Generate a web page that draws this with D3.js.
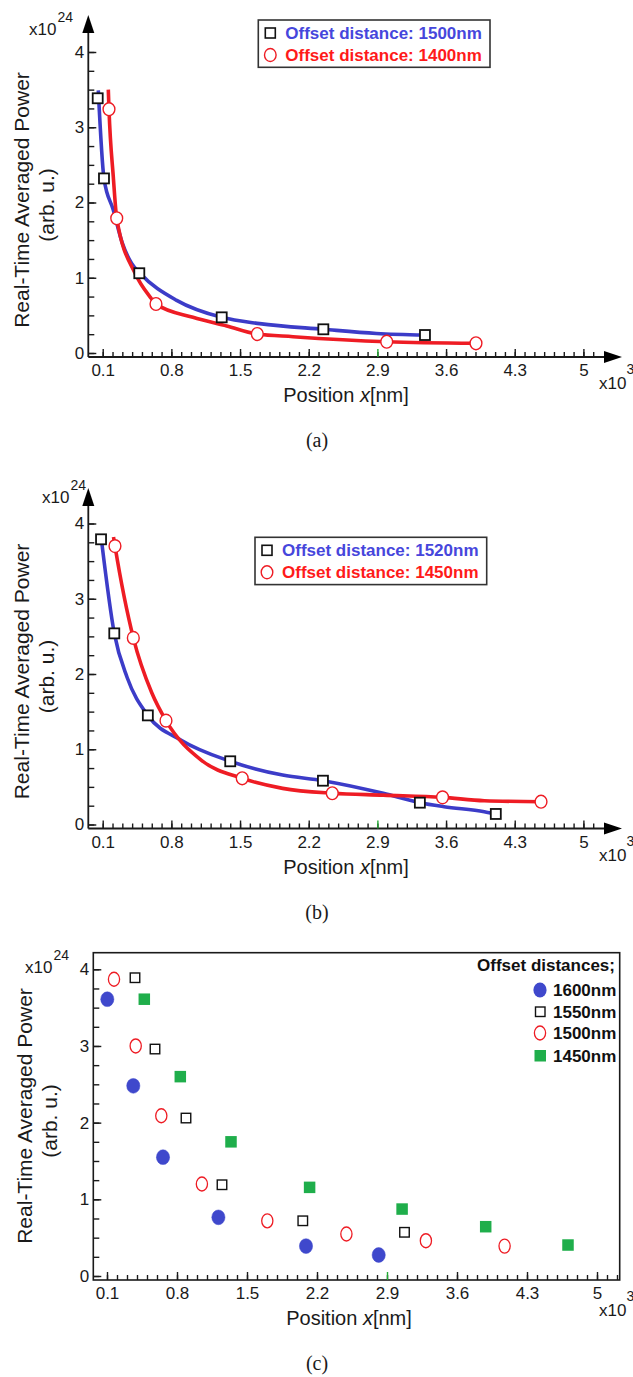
<!DOCTYPE html>
<html><head><meta charset="utf-8">
<script src="https://cdnjs.cloudflare.com/ajax/libs/d3/7.8.5/d3.min.js"></script>
<style>body{margin:0;background:#fff}</style>
</head><body><svg id="c" width="633" height="1377" xmlns="http://www.w3.org/2000/svg"></svg>
<script>
// ---------- data ----------
const xTickValues = [0.1, 0.8, 1.5, 2.2, 2.9, 3.6, 4.3, 5.0];
const xTickLabels = ["0.1", "0.8", "1.5", "2.2", "2.9", "3.6", "4.3", "5"];
const yTickValues = [0, 1, 2, 3, 4];
const yTickLabels = ["0", "1", "2", "3", "4"];

// panel (a)  x in 10^3 nm, y in 10^24
const aSqX = [0.049, 0.113, 0.473, 1.313, 2.349, 3.385];
const aSqY = [3.385, 2.32, 1.06, 0.474, 0.315, 0.239];
const aCiX = [0.164, 0.243, 0.643, 1.676, 2.995, 3.905];
const aCiY = [3.24, 1.79, 0.651, 0.252, 0.15, 0.129];
const aBlueFitX = [0.055, 0.113, 0.208, 0.30, 0.395, 0.48, 0.854, 1.313, 1.70, 2.349, 2.89, 3.385];
const aBlueFitY = [3.49, 2.32, 1.9, 1.46, 1.19, 1.06, 0.70, 0.474, 0.39, 0.315, 0.26, 0.239];
const aRedFitX = [0.157, 0.164, 0.208, 0.243, 0.43, 0.58, 0.643, 1.02, 1.364, 1.676, 2.04, 2.995, 3.905];
const aRedFitY = [3.5, 3.24, 2.34, 1.79, 1.06, 0.75, 0.651, 0.474, 0.359, 0.252, 0.217, 0.15, 0.129];
const aLegend = ["Offset distance: 1500nm", "Offset distance: 1400nm"];

// panel (b)
const bSqX = [0.083, 0.218, 0.56, 1.40, 2.345, 3.333, 4.107];
const bSqY = [3.79, 2.54, 1.45, 0.84, 0.582, 0.29, 0.14];
const bCiX = [0.225, 0.412, 0.745, 1.522, 2.44, 3.564, 4.568];
const bCiY = [3.70, 2.48, 1.38, 0.614, 0.415, 0.361, 0.303];
const bBlueFitX = [0.09, 0.218, 0.35, 0.56, 0.9, 1.40, 1.934, 2.345, 2.96, 3.333, 3.58, 3.99, 4.107];
const bBlueFitY = [3.75, 2.54, 1.95, 1.45, 1.12, 0.84, 0.657, 0.582, 0.414, 0.29, 0.237, 0.17, 0.14];
const bRedFitX = [0.21, 0.225, 0.412, 0.6, 0.745, 1.11, 1.522, 1.934, 2.44, 2.96, 3.564, 3.99, 4.568];
const bRedFitY = [3.82, 3.70, 2.48, 1.75, 1.38, 0.85, 0.614, 0.48, 0.415, 0.39, 0.361, 0.316, 0.303];
const bLegend = ["Offset distance: 1520nm", "Offset distance: 1450nm"];

// panel (c)
const cLegendTitle = "Offset distances;";
const cSeriesNames = ["1600nm", "1550nm", "1500nm", "1450nm"];
const c1600X = [0.103, 0.363, 0.66, 1.214, 2.09, 2.817];
const c1600Y = [3.61, 2.48, 1.55, 0.765, 0.39, 0.274];
const c1550X = [0.38, 0.58, 0.89, 1.25, 2.058, 3.075];
const c1550Y = [3.89, 2.96, 2.06, 1.19, 0.72, 0.57];
const c1500X = [0.17, 0.387, 0.643, 1.049, 1.703, 2.494, 3.289, 4.076];
const c1500Y = [3.87, 3.0, 2.09, 1.2, 0.72, 0.548, 0.46, 0.39];
const c1450X = [0.473, 0.833, 1.34, 2.126, 3.051, 3.887, 4.71];
const c1450Y = [3.61, 2.6, 1.75, 1.156, 0.873, 0.643, 0.404];

// ---------- drawing ----------
const svg = d3.select("#c");
const FONT = "'Liberation Sans', Arial, sans-serif";
const INK = "#1a1a1a";
const BLUE = "#3c3cc8", RED = "#ee1c24", GREEN = "#1fae4b", BLUEDOT = "#3f48cc";

function zip(a, b) { return a.map((v, i) => [v, b[i]]); }

function panel(cfg) {
  const g = svg.append("g");
  const x = d3.scaleLinear().domain([0, 1]).range([cfg.x0, cfg.x0 + cfg.kx]);
  const y = d3.scaleLinear().domain([0, 4]).range([cfg.y0, cfg.y4]);

  if (cfg.box) {
    g.append("rect").attr("x", cfg.axisX).attr("y", cfg.boxTop)
      .attr("width", cfg.boxRight - cfg.axisX).attr("height", cfg.axisY - cfg.boxTop)
      .attr("fill", "none").attr("stroke", INK).attr("stroke-width", 1.6);
  } else {
    g.append("line").attr("x1", cfg.axisX).attr("x2", cfg.xEnd).attr("y1", cfg.axisY).attr("y2", cfg.axisY)
      .attr("stroke", INK).attr("stroke-width", 1.8);
    g.append("line").attr("x1", cfg.axisX).attr("x2", cfg.axisX).attr("y1", cfg.axisY).attr("y2", cfg.arrowBase)
      .attr("stroke", INK).attr("stroke-width", 1.8);
    g.append("path").attr("d", `M${cfg.axisX},${cfg.arrowTop} L${cfg.axisX - 6},${cfg.arrowBase} L${cfg.axisX + 6},${cfg.arrowBase}Z`).attr("fill", "#000");
    g.append("path").attr("d", `M${cfg.arrowTip},${cfg.axisY} L${cfg.xEnd},${cfg.axisY - 6} L${cfg.xEnd},${cfg.axisY + 6}Z`).attr("fill", "#000");
  }

  const xMinor = d3.range(1, Math.round(cfg.xMax * 10) + 1).map(i => i / 10);
  const gxm = g.append("g").attr("transform", `translate(0,${cfg.axisY})`)
    .call(d3.axisBottom(x).tickValues(xMinor).tickSize(-5).tickFormat(""));
  const gx = g.append("g").attr("transform", `translate(0,${cfg.axisY})`)
    .call(d3.axisBottom(x).tickValues(xTickValues).tickSize(-8).tickPadding(7)
      .tickFormat((d, i) => xTickLabels[i]));
  const yMinor = d3.range(0, 17).map(i => i / 4);
  const gym = g.append("g").attr("transform", `translate(${cfg.axisX},0)`)
    .call(d3.axisLeft(y).tickValues(yMinor).tickSize(-6).tickFormat(""));
  const gy = g.append("g").attr("transform", `translate(${cfg.axisX},0)`)
    .call(d3.axisLeft(y).tickValues(yTickValues).tickSize(-8).tickPadding(4)
      .tickFormat((d, i) => yTickLabels[i]));
  [gxm, gx, gym, gy].forEach(a => {
    a.select(".domain").remove();
    a.selectAll("line").attr("stroke", INK).attr("stroke-width", 1.4);
    a.selectAll("text").attr("font-family", FONT).attr("font-size", 17).attr("fill", INK);
  });
  // the 2.9 major tick is drawn green in the original
  gx.selectAll(".tick").filter(d => Math.abs(d - 2.9) < 1e-6).select("line").attr("stroke", "#22aa33");

  const t24 = g.append("text").attr("font-family", FONT).attr("fill", INK);
  t24.append("tspan").attr("x", cfg.expX).attr("y", cfg.expY).attr("font-size", 17).text("x10");
  t24.append("tspan").attr("dx", 1).attr("dy", -13).attr("font-size", 14).text("24");
  const t3 = g.append("text").attr("font-family", FONT).attr("fill", INK);
  t3.append("tspan").attr("x", 599).attr("y", cfg.axisY + cfg.exp3dy).attr("font-size", 17).text("x10");
  t3.append("tspan").attr("dx", 0).attr("dy", -15).attr("font-size", 14).text("3");

  const xt = g.append("text").attr("x", cfg.xTitleX).attr("y", cfg.axisY + 45)
    .attr("text-anchor", "middle").attr("font-family", FONT).attr("font-size", 20).attr("fill", INK);
  xt.append("tspan").text("Position ");
  xt.append("tspan").attr("font-style", "italic").text("x");
  xt.append("tspan").text("[nm]");
  g.append("text").attr("transform", `translate(${cfg.yT1x},${cfg.yTy}) rotate(-90)`)
    .attr("text-anchor", "middle").attr("font-family", FONT).attr("font-size", 21).attr("fill", INK)
    .text("Real-Time Averaged Power");
  g.append("text").attr("transform", `translate(${cfg.yT1x + 25},${cfg.yTy + 5}) rotate(-90)`)
    .attr("text-anchor", "middle").attr("font-family", FONT).attr("font-size", 21).attr("fill", INK)
    .text("(arb. u.)");
  g.append("text").attr("x", 317).attr("y", cfg.axisY + cfg.capdy).attr("text-anchor", "middle")
    .attr("font-family", "'Liberation Serif', 'Times New Roman', serif").attr("font-size", 20).attr("fill", INK)
    .text(cfg.caption);
  return { g, x, y };
}

function squares(g, x, y, data, size, opts) {
  g.append("g").selectAll("rect").data(data).join("rect")
    .attr("x", d => x(d[0]) - size / 2).attr("y", d => y(d[1]) - size / 2)
    .attr("width", size).attr("height", size)
    .attr("fill", opts.fill).attr("stroke", opts.stroke).attr("stroke-width", opts.sw);
}
function ellipses(g, x, y, data, rx, ry, opts) {
  g.append("g").selectAll("ellipse").data(data).join("ellipse")
    .attr("cx", d => x(d[0])).attr("cy", d => y(d[1])).attr("rx", rx).attr("ry", ry)
    .attr("fill", opts.fill).attr("stroke", opts.stroke).attr("stroke-width", opts.sw);
}
function fitLine(g, x, y, data, color) {
  g.append("path").datum(data)
    .attr("d", d3.line().x(d => x(d[0])).y(d => y(d[1])).curve(d3.curveMonotoneX))
    .attr("fill", "none").attr("stroke", color).attr("stroke-width", 3.6).attr("stroke-linecap", "butt");
}
function lineLegend(g, box, labels) {
  g.append("rect").attr("x", box[0]).attr("y", box[1]).attr("width", box[2]).attr("height", box[3])
    .attr("fill", "#fff").attr("stroke", "#333").attr("stroke-width", 1.6);
  const r1 = box[1] + 13, r2 = box[1] + 35;
  g.append("rect").attr("x", box[0] + 7).attr("y", r1 - 5).attr("width", 10).attr("height", 10)
    .attr("fill", "#fff").attr("stroke", "#111").attr("stroke-width", 1.6);
  g.append("ellipse").attr("cx", box[0] + 12).attr("cy", r2).attr("rx", 5.8).attr("ry", 6.5)
    .attr("fill", "#fff").attr("stroke", RED).attr("stroke-width", 1.4);
  g.append("text").attr("x", box[0] + 27).attr("y", r1 + 6).attr("font-family", FONT).attr("font-weight", "bold")
    .attr("font-size", 17).attr("fill", "#4646dc").text(labels[0]);
  g.append("text").attr("x", box[0] + 27).attr("y", r2 + 6).attr("font-family", FONT).attr("font-weight", "bold")
    .attr("font-size", 17).attr("fill", "#ff1a1a").text(labels[1]);
}

const base = { x0: 92.9, kx: 98.1, xMax: 5.1, axisX: 88.3, xEnd: 604, arrowTip: 622,
  exp3dy: 32, xTitleX: 346, capdy: 90 };

// panel (a)
{
  const cfg = Object.assign({}, base, { y0: 353, y4: 52, axisY: 357, arrowTop: 15, arrowBase: 33,
    expX: 29, expY: 35, yT1x: 29, yTy: 200, caption: "(a)" });
  const { g, x, y } = panel(cfg);
  fitLine(g, x, y, zip(aBlueFitX, aBlueFitY), BLUE);
  fitLine(g, x, y, zip(aRedFitX, aRedFitY), RED);
  squares(g, x, y, zip(aSqX, aSqY), 10, { fill: "#fff", stroke: "#111", sw: 1.8 });
  ellipses(g, x, y, zip(aCiX, aCiY), 5.9, 6.4, { fill: "#fff", stroke: RED, sw: 1.4 });
  lineLegend(g, [258.3, 20, 231.7, 47.3], aLegend);
}
// panel (b)
{
  const off = 471.5;
  const cfg = Object.assign({}, base, { y0: 353 + off, y4: 52 + off, axisY: 357 + off, arrowTop: 16.5 + off, arrowBase: 34.5 + off,
    expX: 42, expY: 503, yT1x: 29, yTy: 200 + off, caption: "(b)" });
  const { g, x, y } = panel(cfg);
  fitLine(g, x, y, zip(bBlueFitX, bBlueFitY), BLUE);
  fitLine(g, x, y, zip(bRedFitX, bRedFitY), RED);
  squares(g, x, y, zip(bSqX, bSqY), 10, { fill: "#fff", stroke: "#111", sw: 1.8 });
  ellipses(g, x, y, zip(bCiX, bCiY), 5.9, 6.4, { fill: "#fff", stroke: RED, sw: 1.4 });
  lineLegend(g, [255, 537.3, 231.7, 47.3], bLegend);
}
// panel (c)
{
  const cfg = Object.assign({}, base, { x0: 97, kx: 100, xMax: 5.2, axisX: 93.3, y0: 1276, y4: 969.3, axisY: 1280,
    box: true, boxTop: 952.7, boxRight: 619.7, expX: 25, expY: 973, yT1x: 32, yTy: 1116,
    xTitleX: 349, exp3dy: 36, caption: "(c)" });
  const { g, x, y } = panel(cfg);
  ellipses(g, x, y, zip(c1600X, c1600Y), 6.6, 7.4, { fill: BLUEDOT, stroke: BLUEDOT, sw: 0.5 });
  squares(g, x, y, zip(c1550X, c1550Y), 9.5, { fill: "none", stroke: "#111", sw: 1.4 });
  ellipses(g, x, y, zip(c1500X, c1500Y), 5.6, 7.0, { fill: "none", stroke: RED, sw: 1.3 });
  squares(g, x, y, zip(c1450X, c1450Y), 11.5, { fill: GREEN, stroke: "none", sw: 0 });
  const lg = g.append("g");
  lg.append("text").attr("x", 615).attr("y", 971).attr("text-anchor", "end").attr("font-family", FONT)
    .attr("font-weight", "bold").attr("font-size", 17).attr("fill", "#111").text(cLegendTitle);
  const rows = [990, 1011.5, 1033, 1055.5];
  lg.append("ellipse").attr("cx", 540).attr("cy", rows[0]).attr("rx", 6.6).attr("ry", 7.4).attr("fill", BLUEDOT);
  lg.append("rect").attr("x", 535.5).attr("y", rows[1] - 4.5).attr("width", 9.5).attr("height", 9.5)
    .attr("fill", "none").attr("stroke", "#111").attr("stroke-width", 1.4);
  lg.append("ellipse").attr("cx", 540).attr("cy", rows[2]).attr("rx", 5.6).attr("ry", 7).attr("fill", "none")
    .attr("stroke", RED).attr("stroke-width", 1.3);
  lg.append("rect").attr("x", 534.5).attr("y", rows[3] - 5.5).attr("width", 11.5).attr("height", 11.5).attr("fill", GREEN);
  lg.selectAll("text.item").data(cSeriesNames).join("text").attr("class", "item")
    .attr("x", 553).attr("y", (d, i) => rows[i] + 6).attr("font-family", FONT).attr("font-weight", "bold")
    .attr("font-size", 17).attr("fill", "#111").text(d => d);
}
</script>
</body></html>
